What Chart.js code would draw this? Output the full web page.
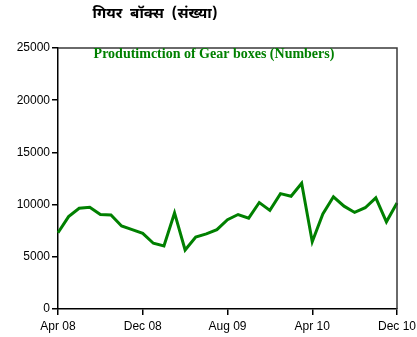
<!DOCTYPE html>
<html>
<head>
<meta charset="utf-8">
<script src="https://cdn.jsdelivr.net/npm/chart.js@4/dist/chart.umd.min.js"></script>
<style>
  html, body { margin: 0; padding: 0; background: #fff; }
  #wrap { width: 417px; height: 337px; }
</style>
</head>
<body>
<div id="wrap"><canvas id="chart1"></canvas></div>
<script>
const months = [
  'Apr 08', 'May 08', 'Jun 08', 'Jul 08', 'Aug 08', 'Sep 08', 'Oct 08', 'Nov 08',
  'Dec 08', 'Jan 09', 'Feb 09', 'Mar 09', 'Apr 09', 'May 09', 'Jun 09', 'Jul 09',
  'Aug 09', 'Sep 09', 'Oct 09', 'Nov 09', 'Dec 09', 'Jan 10', 'Feb 10', 'Mar 10',
  'Apr 10', 'May 10', 'Jun 10', 'Jul 10', 'Aug 10', 'Sep 10', 'Oct 10', 'Nov 10',
  'Dec 10'
];
const gearBoxes = [
  7300, 8850, 9650, 9750, 9050, 9000, 7950, 7600,
  7250, 6300, 6050, 9200, 5650, 6900, 7200, 7600,
  8550, 9050, 8700, 10200, 9450, 11050, 10800, 12050,
  6450, 9100, 10750, 9850, 9250, 9700, 10650, 8350,
  10150
];
const yTicks = [0, 5000, 10000, 15000, 20000, 25000];

const mainTitle = 'गियर  बॉक्स  (संख्या)';
const innerTitle = 'Produtimction of Gear boxes (Numbers)';

// titles + the grey top/right frame
const frame = {
  id: 'frame',
  afterDraw(chart) {
    const { ctx, chartArea: a } = chart;
    ctx.save();
    ctx.strokeStyle = '#3a3a3a';
    ctx.lineWidth = 1.5;
    ctx.beginPath();
    ctx.moveTo(a.left, a.top);
    ctx.lineTo(a.right, a.top);
    ctx.lineTo(a.right, a.bottom);
    ctx.stroke();

    ctx.textAlign = 'center';
    ctx.textBaseline = 'middle';
    ctx.fillStyle = '#000';
    ctx.font = 'bold 15px "Noto Sans Devanagari", "Lohit Devanagari", "Noto Sans", sans-serif';
    ctx.fillText(mainTitle, 155, 15);

    ctx.fillStyle = '#008000';
    ctx.font = 'bold 14px "Liberation Serif", "Times New Roman", serif';
    ctx.fillText(innerTitle, 214, a.top + 6);
    ctx.restore();
  }
};

const cfg1 = {
  type: 'line',
  data: {
    labels: months,
    datasets: [
      { label: innerTitle, data: gearBoxes, borderColor: '#008000', borderWidth: 3,
        pointRadius: 0, tension: 0, fill: false }
    ]
  },
  options: {
    responsive: true,
    maintainAspectRatio: false,
    animation: false,
    layout: { padding: { top: 48, right: 20, left: 0, bottom: 0 } },
    plugins: { legend: { display: false }, tooltip: { enabled: false } },
    scales: {
      x: {
        offset: false,
        grid: { drawOnChartArea: false, drawTicks: true, tickLength: 6, color: '#000', lineWidth: 1.5 },
        border: { display: true, color: '#000', width: 1.5 },
        ticks: { autoSkip: false, maxRotation: 0, color: '#000', padding: 4,
          font: { family: '"Liberation Sans", Arial, sans-serif', size: 12 } },
        afterBuildTicks: axis => { axis.ticks = axis.ticks.filter(t => t.value % 8 === 0); },
        afterFit: axis => { axis.height = 28; axis.paddingRight = 0; axis.paddingLeft = 0; }
      },
      y: {
        min: 0, max: 25000,
        grid: { drawOnChartArea: false, drawTicks: true, tickLength: 6, color: '#000', lineWidth: 1.5 },
        border: { display: true, color: '#000', width: 1.5 },
        ticks: { color: '#000', padding: 2, callback: v => String(v),
          font: { family: '"Liberation Sans", Arial, sans-serif', size: 12 } },
        afterBuildTicks: axis => { axis.ticks = yTicks.map(v => ({ value: v })); },
        afterFit: axis => { axis.width = 58; axis.paddingTop = 0; axis.paddingBottom = 0; }
      }
    }
  },
  plugins: [frame]
};

const chart1 = new Chart(document.getElementById('chart1').getContext('2d'), cfg1);
</script>
</body>
</html>
